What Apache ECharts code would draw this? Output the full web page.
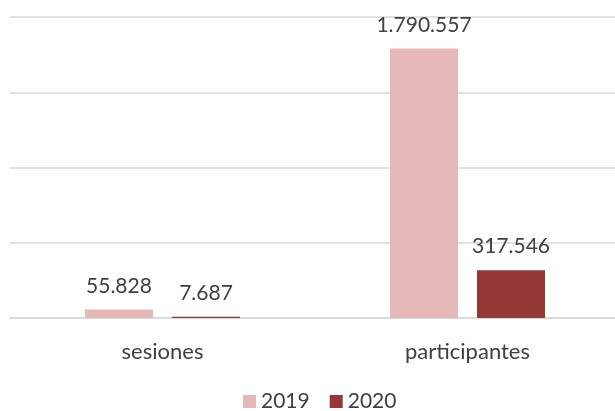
<!DOCTYPE html>
<html>
<head>
	<meta charset="UTF-8">
	<title>sesiones y participantes</title>
	<script src="https://cdn.jsdelivr.net/npm/echarts@6/dist/echarts.min.js"></script>
	<style>
		html, body { margin: 0; padding: 0; background: #fff; }
		#chart { width: 615px; height: 411px; }
	</style>
</head>
<body>
<div id="chart"></div>
<script type="text/javascript">
	var categorias = ['sesiones', 'participantes'];
	var anios = ['2019', '2020'];
	var datos2019 = [55828, 1790557];
	var datos2020 = [7687, 317546];
	var colores = ['#e6b8b7', '#953735'];

	// formato con punto de miles
	function miles(v) {
		return String(v).replace(/\B(?=(\d{3})+(?!\d))/g, '.');
	}

	var chart = echarts.init(document.getElementById('chart'));

	var labelStyle = {
		show: true,
		position: 'top',
		distance: 13,
		color: '#404040',
		fontFamily: 'Lato',
		fontSize: 21,
		formatter: function (p) { return miles(p.value); }
	};

	var option = {
		animation: false,
		color: colores,
		grid: {
			left: 10,
			width: 610,
			top: 17,
			bottom: 93,
			outerBoundsMode: 'none'
		},
		legend: {
			top: 391,
			left: 243,
			padding: 0,
			itemWidth: 13,
			itemHeight: 13,
			itemGap: 20,
			icon: 'rect',
			textStyle: { color: '#404040', fontFamily: 'Lato', fontSize: 21 },
			data: anios
		},
		xAxis: {
			type: 'category',
			data: categorias,
			axisLine: { show: true, lineStyle: { color: '#d9d9d9', width: 1.5 } },
			axisTick: { show: false },
			axisLabel: { color: '#404040', fontFamily: 'Lato', fontSize: 22, margin: 23 }
		},
		yAxis: {
			type: 'value',
			min: 0,
			max: 2000000,
			interval: 500000,
			axisLabel: { show: false },
			axisLine: { show: false },
			axisTick: { show: false },
			splitLine: { lineStyle: { color: '#d9d9d9', width: 1.5 } }
		},
		series: [
			{
				name: anios[0],
				type: 'bar',
				barWidth: 68,
				barGap: '28%',
				data: datos2019,
				label: labelStyle
			},
			{
				name: anios[1],
				type: 'bar',
				barWidth: 68,
				barGap: '28%',
				data: datos2020,
				label: labelStyle
			}
		]
	};

	chart.setOption(option);
</script>
</body>
</html>
